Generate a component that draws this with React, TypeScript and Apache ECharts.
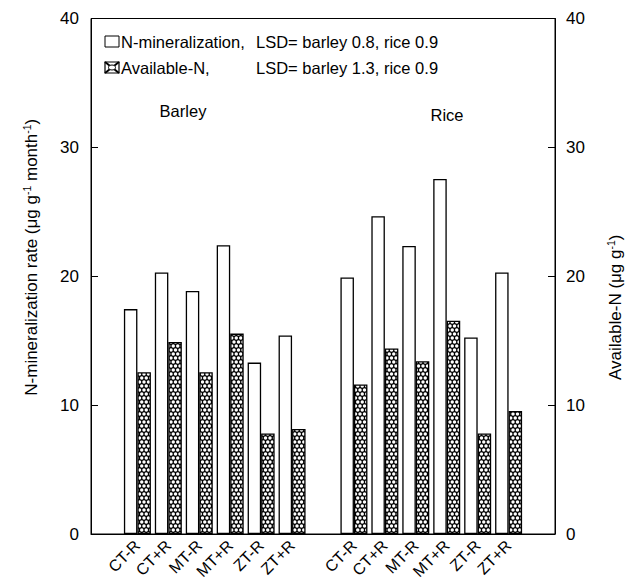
import React, { useEffect, useRef } from "react";
import * as echarts from "echarts";

const treatments = ["CT-R", "CT+R", "MT-R", "MT+R", "ZT-R", "ZT+R"];
const categories = ["", ...treatments, "", ...treatments, ""];
const barleyNMin = [17.45, 20.3, 18.85, 22.4, 13.3, 15.4];
const barleyAvail = [12.55, 14.9, 12.55, 15.55, 7.8, 8.15];
const riceNMin = [19.9, 24.65, 22.35, 27.55, 15.25, 20.3];
const riceAvail = [11.6, 14.4, 13.4, 16.55, 7.8, 9.55];
const yMin = 0;
const yMax = 40;
const yInterval = 10;

const FONT = "'Liberation Sans', Arial, sans-serif";

function makePattern(): HTMLCanvasElement {
  const c = document.createElement("canvas");
  c.width = 9;
  c.height = 8;
  const ctx = c.getContext("2d")!;
  ctx.fillStyle = "#000";
  ctx.fillRect(0, 0, 9, 8);
  ctx.fillStyle = "#fff";
  const r = 1.75;
  const pts = [
    [2.25, 2],
    [6.75, 2],
    [0, 6],
    [4.5, 6],
    [9, 6],
  ];
  for (const [x, y] of pts) {
    ctx.beginPath();
    ctx.arc(x, y, r, 0, Math.PI * 2);
    ctx.fill();
  }
  return c;
}

export default function App() {
  const ref = useRef<HTMLDivElement>(null);
  useEffect(() => {
    if (!ref.current) return;
    const chart = echarts.init(ref.current, null, { renderer: "svg" });
    const pattern = makePattern();
    const nMin = [null, ...barleyNMin, null, ...riceNMin, null];
    const avail = [null, ...barleyAvail, null, ...riceAvail, null];
    const txt = { fontFamily: FONT, fontSize: 16.5, fill: "#000" };
    const supRich = {
      sup: { fontSize: 10.5, fontFamily: FONT, color: "#000", padding: [0, 0, 9, 0] },
    };
    chart.setOption({
      animation: false,
      backgroundColor: "#fff",
      textStyle: { fontFamily: FONT, color: "#000" },
      grid: {
        left: 91,
        right: 81,
        top: 18.5,
        bottom: 49,
        outerBoundsMode: "none",
        containLabel: false,
        show: true,
        borderColor: "#000",
        borderWidth: 1,
      },
      xAxis: {
        type: "category",
        data: categories,
        axisLine: { lineStyle: { color: "#000", width: 1 } },
        axisTick: { show: false },
        axisLabel: {
          interval: 0,
          rotate: 45,
          fontSize: 16,
          color: "#000",
          fontFamily: FONT,
          margin: 9,
        },
      },
      yAxis: [
        {
          type: "value",
          min: yMin,
          max: yMax,
          interval: yInterval,
          position: "left",
          splitLine: { show: false },
          axisLine: { show: true, lineStyle: { color: "#000" } },
          axisTick: { show: true, inside: true, length: 7, lineStyle: { color: "#000" } },
          axisLabel: { fontSize: 17, color: "#000", fontFamily: FONT, margin: 12 },
          name: "N-mineralization rate (μg g{sup|-1} month{sup|-1})",
          nameLocation: "middle",
          nameRotate: 90,
          nameGap: 50,
          nameTextStyle: {
            fontSize: 17,
            color: "#000",
            fontFamily: FONT,
            padding: [0, 0, 0, 38],
            rich: supRich,
          },
        },
        {
          type: "value",
          min: yMin,
          max: yMax,
          interval: yInterval,
          position: "right",
          splitLine: { show: false },
          axisLine: { show: true, lineStyle: { color: "#000" } },
          axisTick: { show: true, inside: true, length: 7, lineStyle: { color: "#000" } },
          axisLabel: { fontSize: 17, color: "#000", fontFamily: FONT, margin: 11 },
          name: "Available-N (μg g{sup|-1})",
          nameLocation: "middle",
          nameRotate: 90,
          nameGap: 50,
          nameTextStyle: {
            fontSize: 17,
            color: "#000",
            fontFamily: FONT,
            padding: [0, 62, 0, 0],
            rich: supRich,
          },
        },
      ],
      series: [
        {
          name: "N-mineralization",
          type: "bar",
          data: nMin,
          barWidth: 13.5,
          barGap: "0%",
          itemStyle: { color: "#fff", borderColor: "#000", borderWidth: 1.3 },
        },
        {
          name: "Available-N",
          type: "bar",
          data: avail,
          barWidth: 13.5,
          barGap: "0%",
          itemStyle: {
            color: { image: pattern, repeat: "repeat", imageWidth: 9, imageHeight: 8 },
            borderColor: "#000",
            borderWidth: 1.3,
          },
        },
      ],
      graphic: [
        {
          type: "rect",
          shape: { x: 105, y: 36, width: 14, height: 11 },
          style: { fill: "#fff", stroke: "#000", lineWidth: 1 },
        },
        { type: "text", x: 121, y: 42, style: { ...txt, text: "N-mineralization,", verticalAlign: "middle" } },
        { type: "text", x: 256, y: 42, style: { ...txt, text: "LSD= barley 0.8, rice 0.9", verticalAlign: "middle" } },
        {
          type: "rect",
          shape: { x: 105, y: 62, width: 14, height: 11 },
          style: { fill: "#fff", stroke: "#000", lineWidth: 1.2 },
        },
        { type: "line", shape: { x1: 105, y1: 62, x2: 119, y2: 73 }, style: { stroke: "#000", lineWidth: 2 } },
        { type: "line", shape: { x1: 119, y1: 62, x2: 105, y2: 73 }, style: { stroke: "#000", lineWidth: 2 } },
        {
          type: "ellipse",
          shape: { cx: 112, cy: 67.5, rx: 3.5, ry: 2.5 },
          style: { fill: "#fff", stroke: "#000", lineWidth: 1 },
        },
        { type: "text", x: 121, y: 68, style: { ...txt, text: "Available-N,", verticalAlign: "middle" } },
        { type: "text", x: 256, y: 68, style: { ...txt, text: "LSD= barley 1.3, rice 0.9", verticalAlign: "middle" } },
        { type: "text", x: 183, y: 111, style: { ...txt, text: "Barley", align: "center", verticalAlign: "middle" } },
        { type: "text", x: 447, y: 115, style: { ...txt, text: "Rice", align: "center", verticalAlign: "middle" } },
      ],
    });
    return () => chart.dispose();
  }, []);
  return (
    <div
      ref={ref}
      style={{ position: "absolute", left: 0, top: 0, width: 636, height: 583 }}
    />
  );
}
